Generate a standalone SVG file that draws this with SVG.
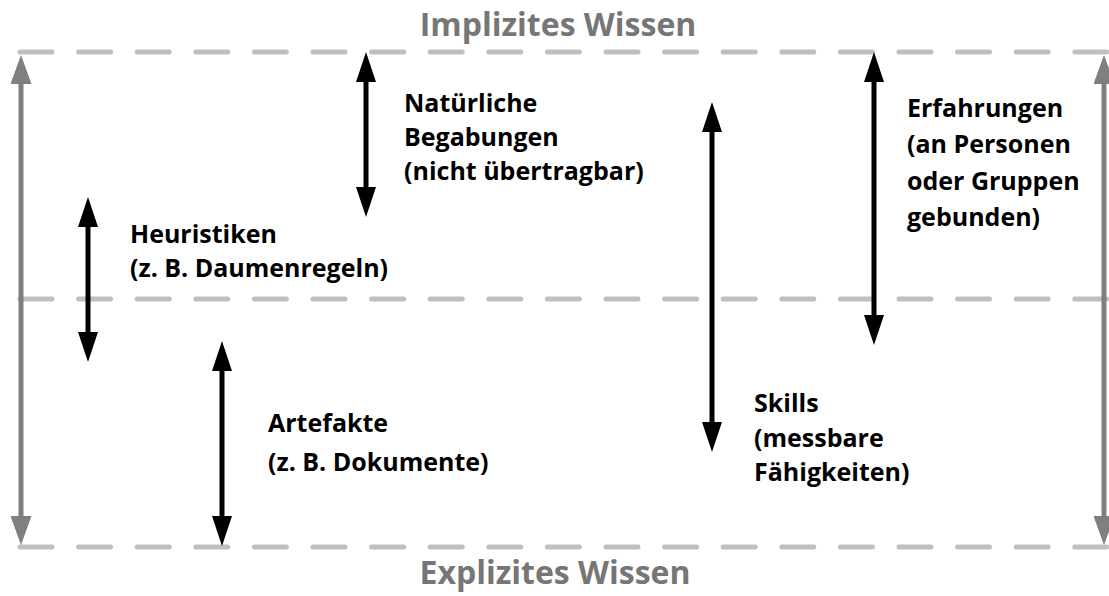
<svg xmlns="http://www.w3.org/2000/svg" width="1109" height="596" viewBox="0 0 1109 596">
  <style>
    .guide { stroke: #bfbfbf; stroke-width: 5; stroke-linecap: round; stroke-dasharray: 32 26.6; fill: none; }
    .axis { stroke: #7f7f7f; stroke-width: 5; fill: none; }
    .span { stroke: #000000; stroke-width: 5; fill: none; }
    .title { font-family: "Open Sans", "Liberation Sans", sans-serif; font-weight: 700; font-size: 32px; fill: #767676; text-anchor: middle; }
    .label { font-family: "Open Sans", "Liberation Sans", sans-serif; font-weight: 700; font-size: 25px; fill: #000000; }
  </style>
  <defs>
    <marker id="headBlack" viewBox="0 0 30 20" markerWidth="30" markerHeight="20" markerUnits="userSpaceOnUse" refX="10" refY="10" orient="auto-start-reverse">
      <path d="M0,0 L30,10 L0,20 Z" fill="#000000"/>
    </marker>
    <marker id="headGray" viewBox="0 0 29 21" markerWidth="29" markerHeight="21" markerUnits="userSpaceOnUse" refX="9" refY="10.5" orient="auto-start-reverse">
      <path d="M0,0 L29,10.5 L0,21 Z" fill="#7f7f7f"/>
    </marker>
  </defs>

  <!-- dashed level lines -->
  <g id="levels">
    <line class="guide" x1="20" y1="52" x2="1107" y2="52"/>
    <line class="guide" x1="20" y1="299" x2="1107" y2="299"/>
    <line class="guide" x1="20" y1="547" x2="1107" y2="547"/>
  </g>

  <!-- connectors: vertical double arrows -->
  <g id="connectors">
    <line class="axis" x1="21" y1="75" x2="21" y2="525" marker-start="url(#headGray)" marker-end="url(#headGray)"/>
    <line class="axis" x1="1104" y1="75" x2="1104" y2="525" marker-start="url(#headGray)" marker-end="url(#headGray)"/>
    <line class="span" x1="366" y1="72" x2="366" y2="197" marker-start="url(#headBlack)" marker-end="url(#headBlack)"/>
    <line class="span" x1="88" y1="217" x2="88" y2="342" marker-start="url(#headBlack)" marker-end="url(#headBlack)"/>
    <line class="span" x1="712" y1="122" x2="712" y2="432" marker-start="url(#headBlack)" marker-end="url(#headBlack)"/>
    <line class="span" x1="222" y1="361" x2="222" y2="526" marker-start="url(#headBlack)" marker-end="url(#headBlack)"/>
    <line class="span" x1="874" y1="72" x2="874" y2="325" marker-start="url(#headBlack)" marker-end="url(#headBlack)"/>
  </g>

  <g id="implizit">
    <text class="title" x="558" y="36">Implizites Wissen</text>
  </g>
  <g id="explizit">
    <text class="title" x="555" y="584">Explizites Wissen</text>
  </g>

  <g id="begabungen">
    <text class="label" x="404" y="112">Natürliche</text>
    <text class="label" x="404" y="146">Begabungen</text>
    <text class="label" x="404" y="180">(nicht übertragbar)</text>
  </g>

  <g id="heuristiken">
    <text class="label" x="130" y="243">Heuristiken</text>
    <text class="label" x="130" y="277">(z. B. Daumenregeln)</text>
  </g>

  <g id="artefakte">
    <text class="label" x="268" y="432">Artefakte</text>
    <text class="label" x="268" y="471">(z. B. Dokumente)</text>
  </g>

  <g id="skills">
    <text class="label" x="754" y="412">Skills</text>
    <text class="label" x="754" y="447">(messbare</text>
    <text class="label" x="754" y="481">Fähigkeiten)</text>
  </g>

  <g id="erfahrungen">
    <text class="label" x="907" y="117">Erfahrungen</text>
    <text class="label" x="907" y="153">(an Personen</text>
    <text class="label" x="907" y="190">oder Gruppen</text>
    <text class="label" x="907" y="226">gebunden)</text>
  </g>
</svg>
